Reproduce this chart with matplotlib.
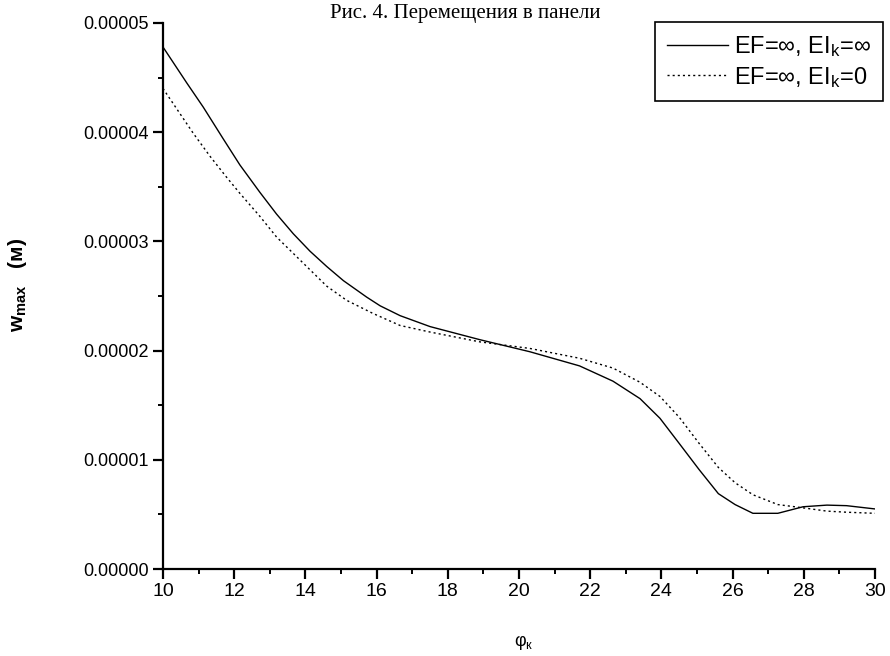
import matplotlib
matplotlib.use("Agg")
import matplotlib.pyplot as plt
from matplotlib.ticker import MultipleLocator, FormatStrFormatter

plt.rcParams['font.family'] = ['Liberation Sans', 'DejaVu Sans']
plt.rcParams['mathtext.fontset'] = 'custom'
plt.rcParams['mathtext.rm'] = 'Liberation Sans'
plt.rcParams['mathtext.it'] = 'Liberation Sans'
plt.rcParams['mathtext.bf'] = 'Liberation Sans:bold'

# EF=inf, EI_k=inf (solid)
phi_solid = [10.0, 10.67, 11.13, 11.69, 12.16, 12.72, 13.19, 13.66, 14.13, 14.6,
             15.07, 15.72, 16.1, 16.66, 17.5, 18.9, 20.3, 21.7, 22.64, 23.4,
             23.96, 24.5, 25.06, 25.6, 26.07, 26.57, 27.27, 27.98, 28.65, 29.2, 30.0]
w_solid = [47.8, 44.5, 42.3, 39.4, 37.0, 34.5, 32.5, 30.7, 29.1, 27.7,
           26.4, 24.9, 24.1, 23.2, 22.2, 21.0, 19.9, 18.6, 17.2, 15.6,
           13.8, 11.5, 9.1, 6.9, 5.9, 5.1, 5.1, 5.7, 5.85, 5.8, 5.5]

# EF=inf, EI_k=0 (dotted)
phi_dot = [10.0, 10.85, 11.32, 11.78, 12.16, 12.72, 13.19, 13.66, 14.13, 14.6,
           15.16, 15.9, 16.66, 17.5, 18.9, 20.3, 21.7, 22.64, 23.4, 23.96,
           24.5, 25.06, 25.6, 26.07, 26.57, 27.27, 27.98, 28.65, 29.2, 30.0]
w_dot = [44.0, 39.9, 37.8, 35.9, 34.4, 32.3, 30.4, 28.9, 27.4, 25.9,
         24.6, 23.4, 22.3, 21.7, 20.8, 20.2, 19.3, 18.4, 17.1, 15.8,
         13.9, 11.5, 9.3, 7.9, 6.8, 5.9, 5.6, 5.3, 5.2, 5.1]

w_solid = [v * 1e-6 for v in w_solid]
w_dot = [v * 1e-6 for v in w_dot]

W, H = 890, 656
fig = plt.figure(figsize=(W / 100, H / 100), dpi=100)
ax = fig.add_axes([163 / W, 1 - 569 / H, (875 - 163) / W, (569 - 23) / H])

ax.plot(phi_solid, w_solid, color='black', lw=1.0,
        label='EF=∞, EI$_{\\mathregular{k}}$=∞')
ax.plot(phi_dot, w_dot, color='black', lw=1.0, linestyle=(0, (1.5, 2.2)),
        label='EF=∞, EI$_{\\mathregular{k}}$=0')

ax.set_xlim(10, 30)
ax.set_ylim(0, 0.00005)
ax.xaxis.set_major_locator(MultipleLocator(2))
ax.xaxis.set_minor_locator(MultipleLocator(1))
ax.yaxis.set_major_locator(MultipleLocator(0.00001))
ax.yaxis.set_minor_locator(MultipleLocator(0.000005))
ax.yaxis.set_major_formatter(FormatStrFormatter('%.5f'))

for side in ['top', 'right']:
    ax.spines[side].set_visible(False)
for side in ['left', 'bottom']:
    ax.spines[side].set_linewidth(1.6)

ax.tick_params(axis='both', which='major', direction='out', length=7, width=1.6)
ax.tick_params(axis='both', which='minor', direction='out', length=3.5, width=1.4)
ax.tick_params(axis='x', labelsize=14, pad=3)
ax.tick_params(axis='y', labelsize=13, pad=3)

ax.set_ylabel('w$_{\\mathregular{max}}$   (м)', fontsize=15, fontweight='bold')
ax.yaxis.set_label_coords(-0.188, 0.52)
ax.set_xlabel('φ$_{\\mathregular{к}}$', fontsize=13)
ax.xaxis.set_label_coords(0.507, -0.118)

leg = ax.legend(loc='upper right', bbox_to_anchor=(883 / W, 1 - 22 / H),
                bbox_transform=fig.transFigure, borderaxespad=0,
                fontsize=17, handlelength=2.6, handletextpad=0.25,
                labelspacing=0.25, borderpad=0.5, fancybox=False,
                framealpha=1, edgecolor='black')
leg.get_frame().set_linewidth(1.2)

fig.text(465 / W, 1 - 18 / H, 'Рис. 4. Перемещения в панели', ha='center',
         va='baseline', family='Liberation Serif', fontsize=15)

fig.savefig('out.png', dpi=100)
